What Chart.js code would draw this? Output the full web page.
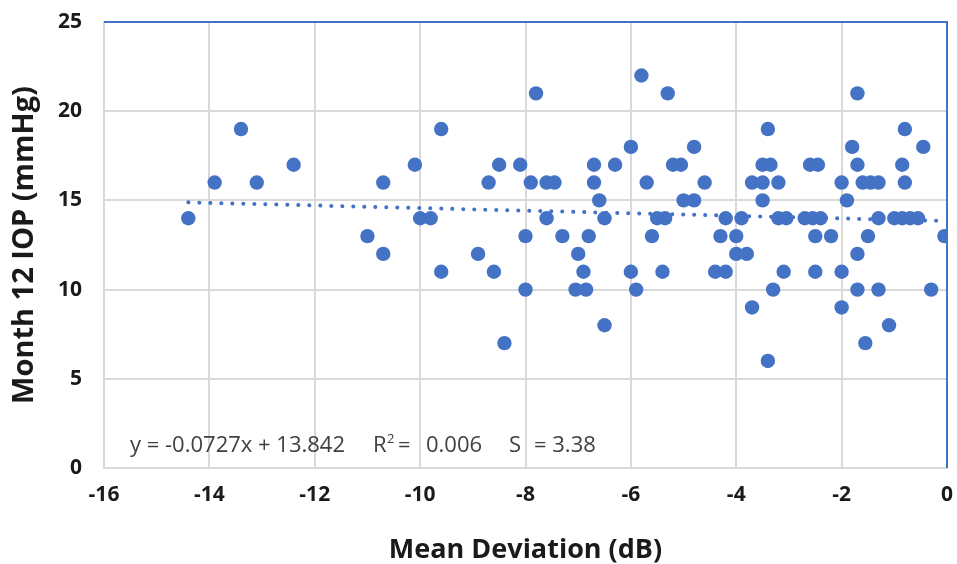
<!DOCTYPE html>
<html>
<head>
<meta charset="utf-8">
<script src="https://cdn.jsdelivr.net/npm/chart.js@4.4.0/dist/chart.umd.min.js"></script>
<style>
  html, body { margin: 0; padding: 0; background: #fff; }
  #wrap { width: 957px; height: 564px; }
</style>
</head>
<body>
<div id="wrap"><canvas id="chart"></canvas></div>
<script>
// mean deviation (dB) and month-12 IOP (mmHg)
const mdValues = [
  -5.8,
  -7.8, -5.3, -1.7,
  -13.4, -9.6, -3.4, -0.8,
  -6.0, -4.8, -1.8, -0.45,
  -12.4, -10.1, -8.5, -8.1, -6.7, -6.3, -5.2, -5.05, -3.5, -3.35, -2.6, -2.45, -1.7, -0.85,
  -13.9, -13.1, -10.7, -8.7, -7.9, -7.6, -7.45, -6.7, -5.7, -4.6, -3.7, -3.5, -3.2, -2.0, -1.6, -1.45, -1.3, -0.8,
  -6.6, -5.0, -4.8, -3.5, -1.9,
  -14.4, -10.0, -9.8, -7.6, -6.5, -5.5, -5.35, -4.2, -3.9, -3.2, -3.05, -2.7, -2.55, -2.4, -1.3, -1.0, -0.85, -0.7, -0.55,
  -11.0, -8.0, -7.3, -6.8, -5.6, -4.3, -4.0, -2.5, -2.2, -1.5, -0.05,
  -10.7, -8.9, -7.0, -4.0, -3.8, -1.7,
  -9.6, -8.6, -6.9, -6.0, -5.4, -4.4, -4.2, -3.1, -2.5, -2.0,
  -8.0, -7.05, -6.85, -5.9, -3.3, -1.7, -1.3, -0.3,
  -3.7, -2.0,
  -6.5, -1.1,
  -8.4, -1.55,
  -3.4
];
const iopValues = [
  22,
  21, 21, 21,
  19, 19, 19, 19,
  18, 18, 18, 18,
  17, 17, 17, 17, 17, 17, 17, 17, 17, 17, 17, 17, 17, 17,
  16, 16, 16, 16, 16, 16, 16, 16, 16, 16, 16, 16, 16, 16, 16, 16, 16, 16,
  15, 15, 15, 15, 15,
  14, 14, 14, 14, 14, 14, 14, 14, 14, 14, 14, 14, 14, 14, 14, 14, 14, 14, 14,
  13, 13, 13, 13, 13, 13, 13, 13, 13, 13, 13,
  12, 12, 12, 12, 12, 12,
  11, 11, 11, 11, 11, 11, 11, 11, 11, 11,
  10, 10, 10, 10, 10, 10, 10, 10,
  9, 9,
  8, 8,
  7, 7,
  6
];

// linear trendline ends
const trendMd = [-14.4, -0.1];
const trendIop = [14.89, 13.85];

const xTicks = [-16, -14, -12, -10, -8, -6, -4, -2, 0];
const yTicks = [0, 5, 10, 15, 20, 25];

const BLUE = '#4472C4';
const GRID = '#d9d9d9';
const INK = '#1a1a1a';
const FONT = '"Open Sans", Lato, sans-serif';

const points = mdValues.map((x, i) => ({ x: x, y: iopValues[i] }));
const trend = trendMd.map((x, i) => ({ x: x, y: trendIop[i] }));

const frameAndText = {
  id: 'frameAndText',
  beforeDatasetsDraw(chart) {
    const ctx = chart.ctx, a = chart.chartArea;
    ctx.save();
    ctx.strokeStyle = BLUE;
    ctx.lineWidth = 2;
    ctx.beginPath();
    ctx.moveTo(a.left, a.top);
    ctx.lineTo(a.right, a.top);
    ctx.lineTo(a.right, a.bottom);
    ctx.stroke();
    // regression note
    ctx.fillStyle = '#404040';
    ctx.font = '22px ' + FONT;
    ctx.textBaseline = 'alphabetic';
    const base = a.bottom - 16;
    ctx.fillText('y = -0.0727x + 13.842', a.left + 26, base);
    ctx.fillText('R', a.left + 269, base);
    ctx.font = '13px ' + FONT;
    ctx.fillText('2', a.left + 283, base - 9);
    ctx.font = '22px ' + FONT;
    ctx.fillText('=', a.left + 294, base);
    ctx.fillText('0.006', a.left + 322, base);
    ctx.fillText('S', a.left + 405, base);
    ctx.fillText('= 3.38', a.left + 430, base);
    ctx.restore();
  }
};

new Chart(document.getElementById('chart'), {
  type: 'scatter',
  data: {
    datasets: [
      {
        label: 'IOP',
        data: points,
        backgroundColor: BLUE,
        borderColor: BLUE,
        borderWidth: 0,
        pointRadius: 7.2,
        order: 1
      },
      {
        label: 'Linear',
        type: 'line',
        data: trend,
        borderColor: BLUE,
        borderWidth: 4,
        borderDash: [0.1, 10.9],
        borderCapStyle: 'round',
        pointRadius: 0,
        fill: false,
        order: 2
      }
    ]
  },
  options: {
    responsive: true,
    maintainAspectRatio: false,
    animation: false,
    devicePixelRatio: 1,
    layout: { padding: { left: 0, right: 10, top: 22, bottom: 0 } },
    plugins: { legend: { display: false }, tooltip: { enabled: false } },
    scales: {
      x: {
        type: 'linear',
        min: -16, max: 0,
        afterBuildTicks: s => { s.ticks = xTicks.map(v => ({ value: v })); },
        afterFit: s => { s.height = 96; s.paddingLeft = 0; s.paddingRight = 0; },
        ticks: { color: INK, font: { family: FONT, size: 21, weight: 'bold' }, padding: 14 },
        grid: { color: GRID, lineWidth: 2, drawTicks: false },
        border: { color: GRID, width: 2 },
        title: {
          display: true, text: 'Mean Deviation (dB)', color: INK,
          font: { family: FONT, size: 27, weight: 'bold' }, padding: { top: 6, bottom: -3 }
        }
      },
      y: {
        min: 0, max: 25,
        afterBuildTicks: s => { s.ticks = yTicks.map(v => ({ value: v })); },
        afterFit: s => { s.width = 104; s.paddingTop = 0; s.paddingBottom = 0; },
        ticks: { color: INK, font: { family: FONT, size: 21, weight: 'bold' }, padding: 22 },
        grid: { color: GRID, lineWidth: 2, drawTicks: false },
        border: { color: GRID, width: 2 },
        title: {
          display: true, text: 'Month 12 IOP (mmHg)', color: INK,
          font: { family: FONT, size: 29, weight: 'bold' }, padding: { top: 7, bottom: 0 }
        }
      }
    }
  },
  plugins: [frameAndText]
});
</script>
</body>
</html>
